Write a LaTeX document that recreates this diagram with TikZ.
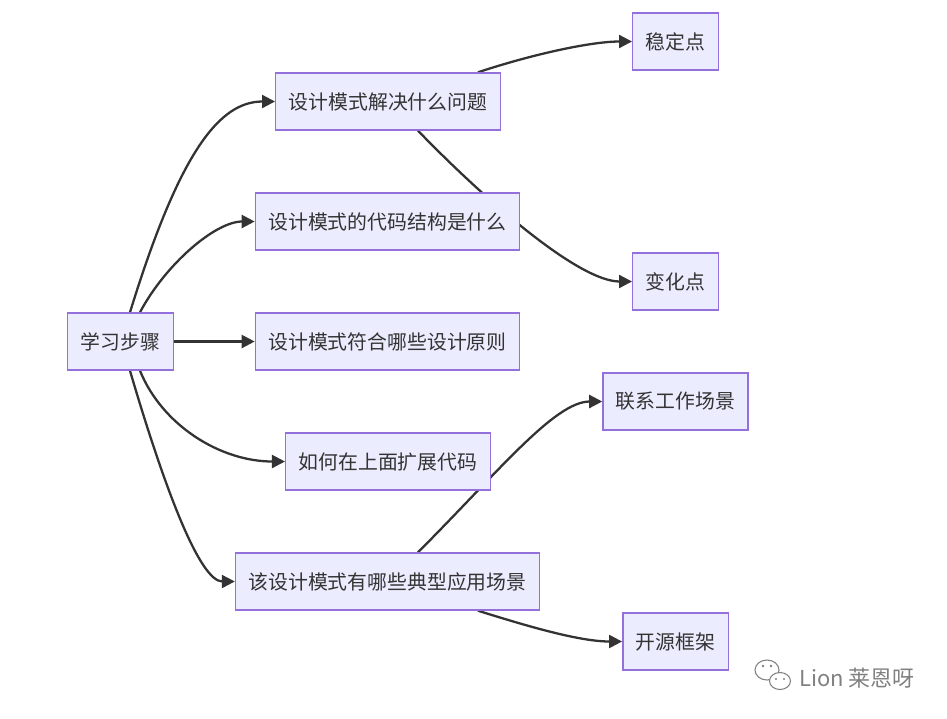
\documentclass[tikz,border=0pt]{standalone}
\usepackage{fontspec}
\setmainfont{Noto Sans CJK SC}
\usetikzlibrary{arrows.meta,backgrounds}
\definecolor{boxfill}{HTML}{ECECFF}
\definecolor{boxline}{HTML}{9370DB}
\definecolor{ink}{HTML}{333333}
\definecolor{markgray}{HTML}{808080}

\begin{document}
\begin{tikzpicture}[x=0.02cm,y=-0.02cm,
  box/.style={draw=boxline,fill=boxfill,line width=0.8pt,text=ink,inner xsep=0.26cm,minimum height=1.14cm,font=\fontsize{11.3}{13}\selectfont},
  link/.style={draw=ink,line width=1.3pt,-{Triangle[length=0.26cm,width=0.26cm]}}]
\useasboundingbox (0,0) rectangle (947,718);
\node[box] (learn) at (120.5,341.5) {学习步骤};
\node[box] (solve) at (388,101.5) {设计模式解决什么问题};
\node[box] (struct) at (387.5,221.5) {设计模式的代码结构是什么};
\node[box] (rule) at (387.5,341.5) {设计模式符合哪些设计原则};
\node[box] (extend) at (388,461.5) {如何在上面扩展代码};
\node[box] (scene) at (387.5,581.5) {该设计模式有哪些典型应用场景};
\node[box] (stable) at (675.5,41.5) {稳定点};
\node[box] (change) at (675.5,281.5) {变化点};
\node[box] (work) at (675.5,401.5) {联系工作场景};
\node[box] (oss) at (675.5,641.5) {开源框架};
\begin{scope}[on background layer]
\draw[link] ([xshift=0.19cm]learn.north) .. controls (180,150) and (220,101.5) .. (solve.west);
\draw[link] ([xshift=0.39cm]learn.north) .. controls (165,265) and (215,221.5) .. (struct.west);
\draw[link] (learn.east) -- (rule.west);
\draw[link] ([xshift=0.39cm]learn.south) .. controls (162,425) and (220,461.5) .. (extend.west);
\draw[link] ([xshift=0.19cm]learn.south) .. controls (165,490) and (200,581.5) .. (scene.west);
\draw[link] ([xshift=1.8cm]solve.north) .. controls (530,55) and (590,41.5) .. (stable.west);
\draw[link] ([xshift=0.6cm]solve.south) .. controls (490,205) and (580,281.5) .. (change.west);
\draw[link] ([xshift=0.61cm]scene.north) .. controls (500,470) and (555,401.5) .. (work.west);
\draw[link] ([xshift=1.81cm]scene.south) .. controls (530,627) and (580,641.5) .. (oss.west);
\end{scope}
% watermark
\draw[markgray,line width=0.6pt,fill=white] (767,670) ellipse (12 and 10);
\draw[markgray,line width=0.6pt,fill=white] (780,681) ellipse (10.5 and 8.5);
\fill[markgray] (763,666) circle (1.3) (771,666) circle (1.3) (776,679) circle (1.2) (784,679) circle (1.2);
\node[text=markgray,font=\fontsize{12.5}{14}\selectfont] (mark) at (857,678) {Lion 莱恩呀};
\end{tikzpicture}
\end{document}
